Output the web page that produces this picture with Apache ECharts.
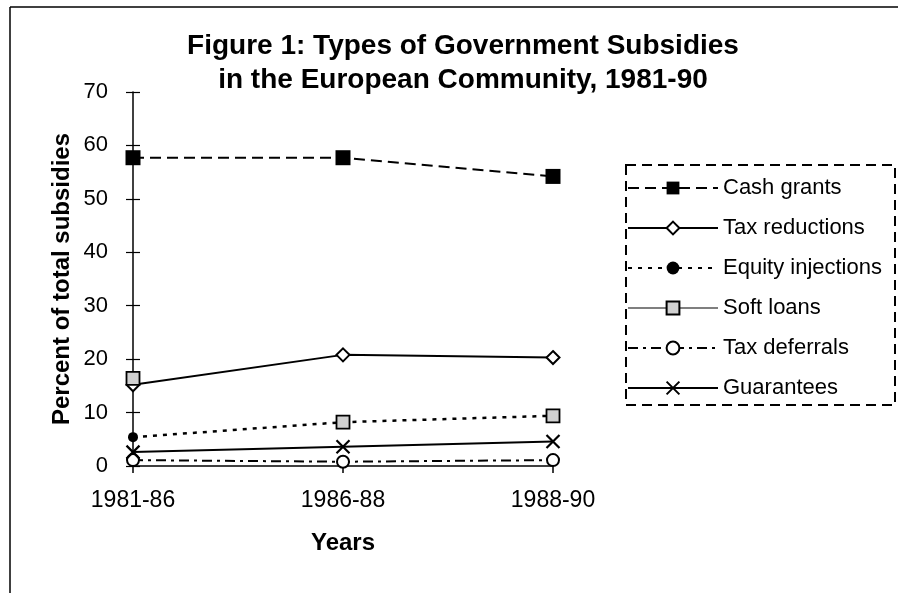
<!DOCTYPE html>
<html>
<head>
<meta charset="utf-8">
<script src="https://cdn.jsdelivr.net/npm/echarts@6/dist/echarts.min.js"></script>
<style>html,body{margin:0;padding:0;background:#fff}#c{width:898px;height:593px}</style>
</head>
<body>
<div id="c"></div>
<script>
const categories = ['1981-86', '1986-88', '1988-90'];
const cashGrants = [57.7, 57.7, 54.2];
const taxReductions = [15.2, 20.8, 20.3];
const equityInjections = [5.4, 8.2, 9.4];
const softLoans = [16.4, 8.2, 9.4];
const taxDeferrals = [1.1, 0.8, 1.1];
const guarantees = [2.6, 3.6, 4.6];
const yTicks = [0, 10, 20, 30, 40, 50, 60, 70];

const FONT = 'Liberation Sans, Arial, sans-serif';
const chart = echarts.init(document.getElementById('c'));
const xPath = 'path://M0,0L10,10M10,0L0,10';

chart.setOption({
  animation: false,
  backgroundColor: '#fff',
  title: {
    text: 'Figure 1: Types of Government Subsidies\nin the European Community, 1981-90',
    left: 458, top: 24, textAlign: 'center',
    textStyle: { fontFamily: FONT, fontSize: 28, fontWeight: 'bold', color: '#000', lineHeight: 34 }
  },
  grid: { left: 133, right: 345, top: 92, bottom: 127, containLabel: false },
  legend: {
    orient: 'vertical', left: 622, top: 172,
    itemWidth: 90, itemHeight: 16, itemGap: 18,
    textStyle: { fontFamily: FONT, fontSize: 22, color: '#000', lineHeight: 22 },
    data: [
      { name: 'Cash grants' },
      { name: 'Tax reductions' },
      { name: 'Equity injections' },
      { name: 'Soft loans', lineStyle: { opacity: 1, width: 1.2, color: '#000' } },
      { name: 'Tax deferrals' },
      { name: 'Guarantees' }
    ]
  },
  xAxis: {
    type: 'category', data: categories, boundaryGap: false,
    axisLine: { lineStyle: { color: '#000', width: 1.5 } },
    axisTick: { length: 7, lineStyle: { color: '#000', width: 1.5 } },
    axisLabel: { margin: 23, fontFamily: FONT, fontSize: 23, color: '#000' },
    name: 'Years', nameLocation: 'middle', nameGap: 65,
    nameTextStyle: { fontFamily: FONT, fontSize: 24, fontWeight: 'bold', color: '#000' }
  },
  yAxis: [{
    type: 'value', min: yTicks[0], max: yTicks[yTicks.length - 1], interval: 10,
    axisLine: { show: true, lineStyle: { color: '#000', width: 1.5 } },
    axisTick: { show: true, length: 7, lineStyle: { color: '#000', width: 1.2 } },
    splitLine: { show: false },
    axisLabel: { margin: 25, fontFamily: FONT, fontSize: 22, color: '#000' },
    name: 'Percent of total subsidies', nameLocation: 'middle', nameGap: 59,
    nameTextStyle: { fontFamily: FONT, fontSize: 24, fontWeight: 'bold', color: '#000' }
  }, {
    type: 'value', min: yTicks[0], max: yTicks[yTicks.length - 1], interval: 10, position: 'left',
    axisLine: { show: false },
    axisTick: { show: true, inside: true, length: 7, lineStyle: { color: '#000', width: 1.2 } },
    splitLine: { show: false }, axisLabel: { show: false }
  }],
  graphic: [
    { type: 'line', shape: { x1: 10, y1: 7, x2: 898, y2: 7 }, style: { stroke: '#000', lineWidth: 1.5 } },
    { type: 'line', shape: { x1: 10, y1: 7, x2: 10, y2: 593 }, style: { stroke: '#000', lineWidth: 1.5 } },
    { type: 'rect', shape: { x: 626, y: 165, width: 269, height: 240 },
      style: { fill: 'none', stroke: '#000', lineWidth: 2, lineDash: [10, 6] }, z: 10 }
  ],
  series: [
    { name: 'Cash grants', type: 'line', data: cashGrants, symbol: 'rect', symbolSize: 15,
      itemStyle: { color: '#000' }, lineStyle: { color: '#000', width: 2, type: [11, 6] } },
    { name: 'Tax reductions', type: 'line', data: taxReductions, symbol: 'emptyDiamond', symbolSize: 13,
      itemStyle: { color: '#000', borderWidth: 2 }, lineStyle: { color: '#000', width: 2 } },
    { name: 'Equity injections', type: 'line', data: equityInjections, symbol: 'circle', symbolSize: 10,
      itemStyle: { color: '#000' }, lineStyle: { color: '#000', width: 2.5, type: [4, 6] } },
    { name: 'Soft loans', type: 'line', data: softLoans, symbol: 'rect', symbolSize: 13,
      itemStyle: { color: '#d0d0d0', borderColor: '#000', borderWidth: 1.8 },
      lineStyle: { color: '#000', width: 1, opacity: 0 } },
    { name: 'Tax deferrals', type: 'line', data: taxDeferrals, symbol: 'emptyCircle', symbolSize: 12,
      itemStyle: { color: '#000', borderWidth: 2 }, lineStyle: { color: '#000', width: 2, type: [10, 5, 3, 5] } },
    { name: 'Guarantees', type: 'line', data: guarantees, symbol: xPath, symbolSize: 13,
      itemStyle: { color: '#000', borderColor: '#000', borderWidth: 2.2 }, lineStyle: { color: '#000', width: 2 } }
  ]
});
</script>
</body>
</html>
